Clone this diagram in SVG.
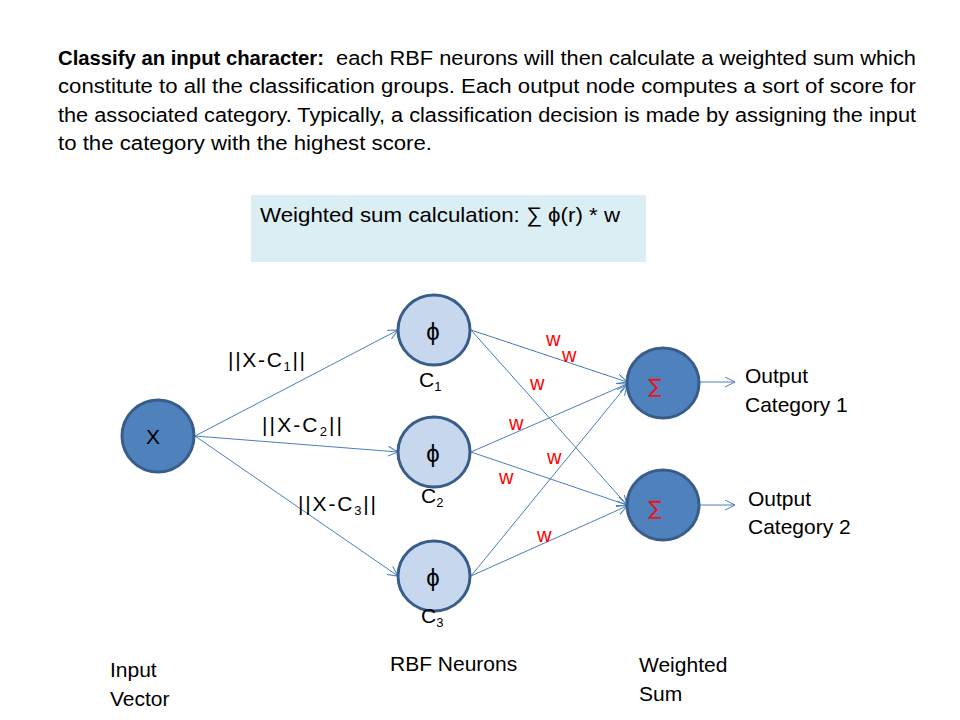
<svg xmlns="http://www.w3.org/2000/svg" width="960" height="720" viewBox="0 0 960 720">
<style>
text{font-family:"Liberation Sans",Arial,sans-serif;fill:#000}
.p{font-size:20px}
.l{font-size:21px}
.g{font-size:24px}
.s{font-size:13px}
.w{font-size:20px;fill:#ff0000}
.sum{font-family:"DejaVu Sans",sans-serif;font-size:20px;fill:#e8141c}
.dark{fill:#4f81bd;stroke:#385d8a;stroke-width:3}
.light{fill:#c6d7ee;stroke:#385d8a;stroke-width:3}
.e{stroke:#4a7ebb;stroke-width:1;fill:none;marker-end:url(#a)}
</style>
<defs>
<marker id="a" markerWidth="12" markerHeight="12" refX="10" refY="5" orient="auto" markerUnits="userSpaceOnUse">
<path d="M0,0 L10,5 L0,10" fill="none" stroke="#4a7ebb" stroke-width="1"/>
</marker>
</defs>
<rect width="960" height="720" fill="#fff"/>
<g id="description">
<text class="p" x="58" y="65" font-weight="bold" textLength="266" lengthAdjust="spacingAndGlyphs">Classify an input character:</text>
<text class="p" x="336" y="65" textLength="580" lengthAdjust="spacingAndGlyphs">each RBF neurons will then calculate a weighted sum which</text>
<text class="p" x="58" y="93" textLength="858" lengthAdjust="spacingAndGlyphs">constitute to all the classification groups.  Each output node computes a sort of score for</text>
<text class="p" x="58" y="122" textLength="858" lengthAdjust="spacingAndGlyphs">the associated category. Typically, a classification decision is made by assigning the input</text>
<text class="p" x="58" y="150" textLength="374" lengthAdjust="spacingAndGlyphs">to the category with the highest score.</text>
</g>
<g id="formula-box">
<rect x="251" y="195" width="395" height="67" fill="#dbeef4"/>
<text class="l" x="260" y="222" textLength="360" lengthAdjust="spacingAndGlyphs">Weighted sum calculation: ∑ ϕ(r) * w</text>
</g>
<g id="connectors">
<line class="e" x1="195" y1="436" x2="398" y2="330"/>
<line class="e" x1="195" y1="436" x2="398" y2="452"/>
<line class="e" x1="195" y1="436" x2="398" y2="576"/>
<line class="e" x1="471" y1="330" x2="627" y2="382"/>
<line class="e" x1="471" y1="330" x2="627" y2="505"/>
<line class="e" x1="471" y1="452" x2="627" y2="384"/>
<line class="e" x1="471" y1="452" x2="627" y2="505"/>
<line class="e" x1="471" y1="576" x2="627" y2="385"/>
<line class="e" x1="471" y1="576" x2="627" y2="506"/>
<line class="e" x1="700" y1="382" x2="735" y2="382"/>
<line class="e" x1="700" y1="505" x2="735" y2="505"/>
</g>
<g id="node-x">
<circle class="dark" cx="158" cy="436" r="36"/>
<text class="l" x="153" y="444" text-anchor="middle">X</text>
</g>
<g id="node-c1">
<ellipse class="light" cx="434" cy="330" rx="36" ry="35"/>
<text class="g" x="433" y="340" text-anchor="middle">ϕ</text>
<text class="l" x="419" y="387">C<tspan class="s" dy="4">1</tspan></text>
</g>
<g id="node-c2">
<ellipse class="light" cx="434" cy="452" rx="36" ry="35"/>
<text class="g" x="433" y="462" text-anchor="middle">ϕ</text>
<text class="l" x="421" y="503">C<tspan class="s" dy="4">2</tspan></text>
</g>
<g id="node-c3">
<ellipse class="light" cx="434" cy="576" rx="36" ry="35"/>
<text class="g" x="433" y="586" text-anchor="middle">ϕ</text>
<text class="l" x="421" y="623">C<tspan class="s" dy="4">3</tspan></text>
</g>
<g id="node-sum1">
<ellipse class="dark" cx="663" cy="383" rx="36" ry="35"/>
<text class="sum" x="655" y="393" text-anchor="middle">∑</text>
</g>
<g id="node-sum2">
<ellipse class="dark" cx="663" cy="505" rx="36" ry="35"/>
<text class="sum" x="655" y="515" text-anchor="middle">∑</text>
</g>
<g id="edge-labels">
<text class="l" x="228" y="367" textLength="77" lengthAdjust="spacing">||X-C<tspan class="s" dy="4">1</tspan><tspan dy="-4">||</tspan></text>
<text class="l" x="262" y="432" textLength="80" lengthAdjust="spacing">||X-C<tspan class="s" dy="4">2</tspan><tspan dy="-4">||</tspan></text>
<text class="l" x="298" y="511" textLength="78" lengthAdjust="spacing">||X-C<tspan class="s" dy="4">3</tspan><tspan dy="-4">||</tspan></text>
<text class="w" x="546" y="346">w</text>
<text class="w" x="562" y="362">w</text>
<text class="w" x="530" y="390">w</text>
<text class="w" x="509" y="430">w</text>
<text class="w" x="547" y="464">w</text>
<text class="w" x="499" y="484">w</text>
<text class="w" x="537" y="542">w</text>
</g>
<g id="outputs">
<text class="l" x="745" y="383">Output</text>
<text class="l" x="745" y="412">Category 1</text>
<text class="l" x="748" y="506">Output</text>
<text class="l" x="748" y="534">Category 2</text>
</g>
<g id="layer-labels">
<text class="l" x="110" y="677">Input</text>
<text class="l" x="110" y="706">Vector</text>
<text class="l" x="390" y="671">RBF Neurons</text>
<text class="l" x="639" y="672">Weighted</text>
<text class="l" x="639" y="701">Sum</text>
</g>
</svg>
